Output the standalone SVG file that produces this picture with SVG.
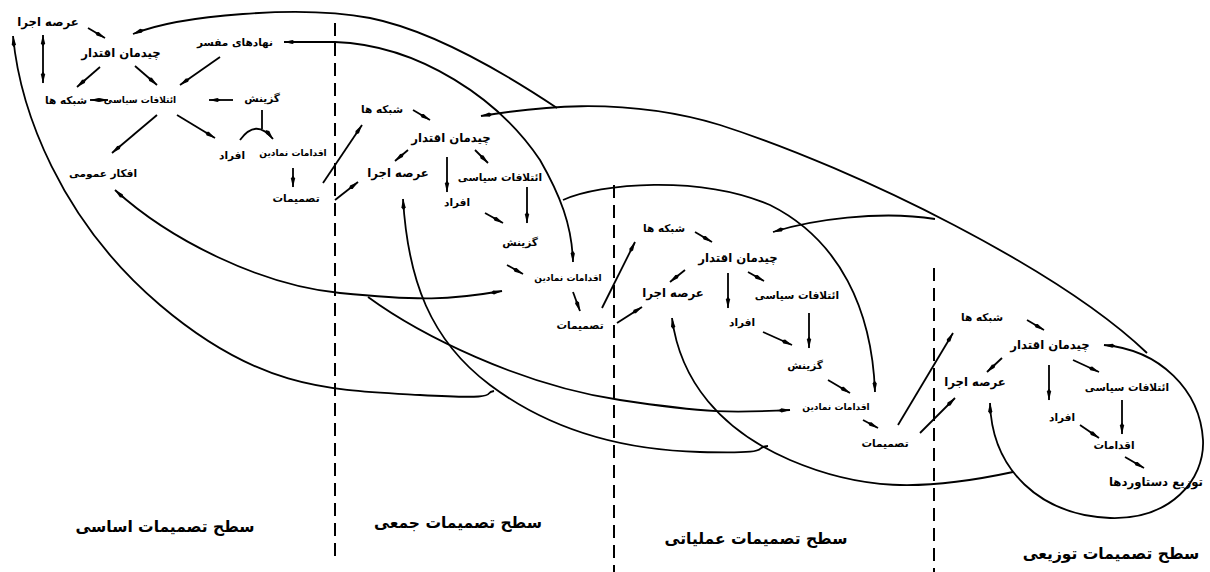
<svg xmlns="http://www.w3.org/2000/svg" width="1210" height="572" viewBox="0 0 1210 572">
<style>
  text{font-family:"DejaVu Sans","Noto Sans",sans-serif;font-weight:bold;fill:#000;text-anchor:middle;direction:rtl}
  .n{font-size:10.5px}
  .L{font-size:11.7px}
  .s{font-size:9px}
  .t{font-size:15.5px}
  .c{fill:none;stroke:#000;stroke-width:1.8}
  .a{fill:none;stroke:#000;stroke-width:1.8;marker-end:url(#ah)}
  .b{fill:none;stroke:#000;stroke-width:1.8;marker-start:url(#ah);marker-end:url(#ah)}
  .st{fill:none;stroke:#000;stroke-width:1.8;marker-start:url(#ah)}
  .d{fill:none;stroke:#000;stroke-width:2;stroke-dasharray:13 7}
</style>
<defs>
  <marker id="ah" viewBox="0 0 12 6" refX="11.5" refY="3" markerWidth="12" markerHeight="6" markerUnits="userSpaceOnUse" orient="auto-start-reverse">
    <path d="M0,3 L3,0.9 L12,3 L3,5.1 z" fill="#000"/>
  </marker>
</defs>
<rect width="1210" height="572" fill="#fff"/>

<g id="separators">
  <line class="d" x1="335" y1="23" x2="335" y2="560"/>
  <line class="d" x1="614" y1="185" x2="614" y2="572"/>
  <line class="d" x1="934" y1="268" x2="934" y2="572"/>
</g>

<g id="connectors">
  <!-- large arcs -->
  <path class="st" d="M13,36 C20,110 60,220 160,305 S330,390 420,395 S480,393 494,391"/>
  <path class="b" d="M115,190 C170,240 260,285 340,293 S450,300 502,291"/>
  <path class="a" d="M368,297 C420,335 520,385 620,400 S740,412 790,410"/>
  <path class="st" d="M403,199 C408,280 430,340 490,385 S620,450 700,452 S750,448 768,446"/>
  <path class="st" d="M672,318 C680,380 720,430 790,460 S920,492 1013,472"/>
  <path class="b" d="M990,403 C992,470 1040,515 1110,518 C1170,520 1205,480 1203,440 C1200,390 1160,350 1104,345"/>
  <path class="st" d="M481,116 C530,108 620,95 720,125 C860,170 1060,270 1147,353"/>
  <path class="st" d="M133,34 C180,15 300,5 370,18 C430,30 500,70 557,108"/>
  <path class="b" d="M284,42 L335,42 C420,45 500,100 540,160 C560,195 572,225 573,262"/>
  <path class="a" d="M563,200 C600,183 700,175 770,205 C840,240 872,310 875,392"/>
  <path class="st" d="M773,232 C810,220 880,210 935,219"/>

  <!-- panel 1 -->
  <line class="b" x1="43" y1="35" x2="43" y2="83"/>
  <line class="a" x1="88" y1="28" x2="105" y2="38"/>
  <line class="a" x1="100" y1="67" x2="77" y2="87"/>
  <line class="a" x1="135" y1="66" x2="157" y2="85"/>
  <line class="a" x1="220" y1="57" x2="180" y2="85"/>
  <line class="b" x1="90" y1="100" x2="108" y2="100"/>
  <line class="a" x1="233" y1="100" x2="209" y2="100"/>
  <line class="a" x1="157" y1="115" x2="112" y2="153"/>
  <line class="a" x1="177" y1="115" x2="215" y2="138"/>
  <path class="a" d="M240,140 Q256,118 273,139"/>
  <line class="c" x1="262" y1="110" x2="262" y2="129"/>
  <line class="a" x1="293" y1="168" x2="293" y2="187"/>
  <line class="a" x1="323" y1="183" x2="362" y2="125"/>
  <line class="a" x1="335" y1="200" x2="358" y2="182"/>

  <!-- panel 2 -->
  <line class="a" x1="413" y1="110" x2="430" y2="120"/>
  <line class="a" x1="408" y1="150" x2="395" y2="161"/>
  <line class="a" x1="447" y1="157" x2="447" y2="192"/>
  <line class="a" x1="475" y1="150" x2="488" y2="163"/>
  <line class="a" x1="527" y1="187" x2="527" y2="223"/>
  <line class="a" x1="485" y1="213" x2="503" y2="223"/>
  <line class="a" x1="507" y1="265" x2="523" y2="274"/>
  <line class="a" x1="573" y1="292" x2="580" y2="311"/>
  <line class="a" x1="602" y1="308" x2="635" y2="242"/>
  <line class="a" x1="617" y1="323" x2="642" y2="307"/>

  <!-- panel 3 -->
  <line class="a" x1="695" y1="232" x2="712" y2="242"/>
  <line class="a" x1="685" y1="270" x2="670" y2="282"/>
  <line class="a" x1="728" y1="273" x2="728" y2="308"/>
  <line class="a" x1="748" y1="272" x2="764" y2="281"/>
  <line class="a" x1="809" y1="313" x2="809" y2="348"/>
  <line class="a" x1="763" y1="332" x2="792" y2="345"/>
  <line class="a" x1="828" y1="380" x2="850" y2="393"/>
  <line class="a" x1="863" y1="420" x2="878" y2="428"/>
  <line class="a" x1="898" y1="425" x2="953" y2="333"/>
  <line class="a" x1="920" y1="433" x2="955" y2="398"/>

  <!-- panel 4 -->
  <line class="a" x1="1027" y1="320" x2="1044" y2="330"/>
  <line class="a" x1="1002" y1="358" x2="987" y2="372"/>
  <line class="a" x1="1049" y1="365" x2="1049" y2="400"/>
  <line class="a" x1="1073" y1="360" x2="1099" y2="372"/>
  <line class="a" x1="1122" y1="400" x2="1122" y2="434"/>
  <line class="a" x1="1080" y1="425" x2="1099" y2="438"/>
  <line class="a" x1="1125" y1="457" x2="1144" y2="468"/>
</g>

<!-- panel 1 nodes -->
<g id="p1-arena"><text class="L" x="48" y="26">عرصه اجرا</text></g>
<g id="p1-authority"><text class="L" x="121" y="57">چیدمان اقتدار</text></g>
<g id="p1-institutions"><text class="n" x="235" y="46">نهادهای مفسر</text></g>
<g id="p1-networks"><text class="n" x="66" y="104">شبکه ها</text></g>
<g id="p1-coalitions"><text class="s" x="140" y="103">ائتلافات سیاسی</text></g>
<g id="p1-selection"><text class="n" x="262" y="102">گزینش</text></g>
<g id="p1-opinion"><text class="n" x="103" y="177">افکار عمومی</text></g>
<g id="p1-individuals"><text class="n" x="232" y="159">افراد</text></g>
<g id="p1-symbolic"><text class="s" x="293" y="156">اقدامات نمادین</text></g>
<g id="p1-decisions"><text class="n" x="296" y="202">تصمیمات</text></g>

<!-- panel 2 nodes -->
<g id="p2-networks"><text class="n" x="382" y="113">شبکه ها</text></g>
<g id="p2-authority"><text class="L" x="451" y="142">چیدمان اقتدار</text></g>
<g id="p2-arena"><text class="L" x="398" y="177">عرصه اجرا</text></g>
<g id="p2-coalitions"><text class="n" x="500" y="181">ائتلافات سیاسی</text></g>
<g id="p2-individuals"><text class="n" x="457" y="206">افراد</text></g>
<g id="p2-selection"><text class="n" x="520" y="246">گزینش</text></g>
<g id="p2-symbolic"><text class="s" x="568" y="281">اقدامات نمادین</text></g>
<g id="p2-decisions"><text class="n" x="580" y="329">تصمیمات</text></g>

<!-- panel 3 nodes -->
<g id="p3-networks"><text class="n" x="664" y="232">شبکه ها</text></g>
<g id="p3-authority"><text class="L" x="738" y="262">چیدمان اقتدار</text></g>
<g id="p3-arena"><text class="L" x="673" y="297">عرصه اجرا</text></g>
<g id="p3-coalitions"><text class="n" x="797" y="299">ائتلافات سیاسی</text></g>
<g id="p3-individuals"><text class="n" x="742" y="326">افراد</text></g>
<g id="p3-selection"><text class="n" x="805" y="369">گزینش</text></g>
<g id="p3-symbolic"><text class="s" x="836" y="410">اقدامات نمادین</text></g>
<g id="p3-decisions"><text class="n" x="885" y="447">تصمیمات</text></g>

<!-- panel 4 nodes -->
<g id="p4-networks"><text class="n" x="982" y="321">شبکه ها</text></g>
<g id="p4-authority"><text class="L" x="1050" y="349">چیدمان اقتدار</text></g>
<g id="p4-arena"><text class="L" x="975" y="386">عرصه اجرا</text></g>
<g id="p4-coalitions"><text class="n" x="1127" y="391">ائتلافات سیاسی</text></g>
<g id="p4-individuals"><text class="n" x="1062" y="421">افراد</text></g>
<g id="p4-actions"><text class="n" x="1114" y="449">اقدامات</text></g>
<g id="p4-distribution"><text class="L" x="1156" y="486">توزیع دستاوردها</text></g>

<!-- level titles -->
<g id="level-1"><text class="t" x="165" y="532">سطح تصمیمات اساسی</text></g>
<g id="level-2"><text class="t" x="458" y="528">سطح تصمیمات جمعی</text></g>
<g id="level-3"><text class="t" x="756" y="544">سطح تصمیمات عملیاتی</text></g>
<g id="level-4"><text class="t" x="1111" y="559">سطح تصمیمات توزیعی</text></g>
</svg>
